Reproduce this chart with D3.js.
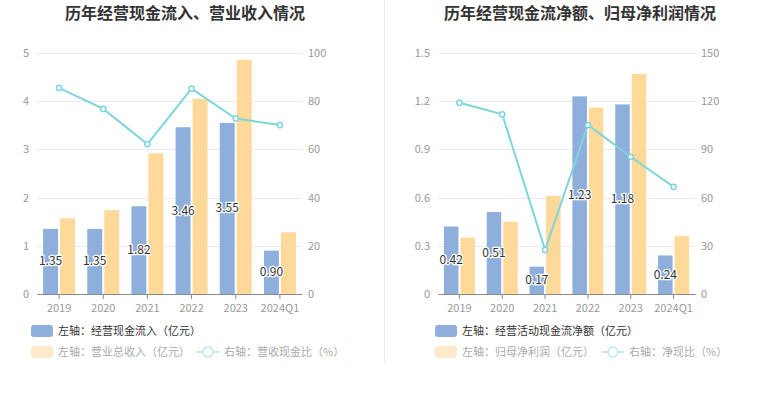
<!DOCTYPE html>
<html>
<head>
<meta charset="utf-8">
<script src="https://cdn.jsdelivr.net/npm/d3@7"></script>
<style>
  body { margin: 0; background: #fff; }
  svg { display: block; font-family: "Noto Sans CJK SC", "Noto Sans", sans-serif; }
</style>
</head>
<body>
<div id="chart"></div>
<script>
const years = ['2019', '2020', '2021', '2022', '2023', '2024Q1'];

// left chart
const cashIn = [1.35, 1.35, 1.82, 3.46, 3.55, 0.90];
const revenue = [1.57, 1.74, 2.92, 4.05, 4.86, 1.28];
const cashRatio = [85.5, 76.8, 62.2, 85.2, 72.8, 70.1];
const leftTicksA = [0, 1, 2, 3, 4, 5];
const rightTicksA = [0, 20, 40, 60, 80, 100];

// right chart
const netCash = [0.42, 0.51, 0.17, 1.23, 1.18, 0.24];
const netProfit = [0.35, 0.45, 0.61, 1.16, 1.37, 0.36];
const netRatio = [119.0, 111.8, 27.5, 105.2, 85.4, 66.7];
const leftTicksB = [0, 0.3, 0.6, 0.9, 1.2, 1.5];
const rightTicksB = [0, 30, 60, 90, 120, 150];

const W = 765, H = 393;
const blue = '#8eaedc', yellow = '#fed99a', cyan = '#7ed5da';

const svg = d3.select('#chart').append('svg').attr('width', W).attr('height', H);

// separator
svg.append('line').attr('x1', 384.5).attr('x2', 384.5).attr('y1', 0).attr('y2', 363)
  .attr('stroke', '#eeeeee');

function drawChart(o) {
  const g = svg.append('g');
  const top = 53, bottom = 294;

  g.append('text').attr('x', o.titleX).attr('y', 19)
    .attr('text-anchor', 'middle').attr('font-size', '16px').attr('font-weight', 'bold')
    .attr('fill', '#333').text(o.title);

  const x = d3.scaleBand().domain(years).range([o.x0, o.x1]);
  const bw = x.bandwidth();
  const sub = d3.scaleBand().domain(['a', 'b'])
    .range([-bw * 0.362, bw * 0.362]).paddingInner(0.12);
  const yL = d3.scaleLinear().domain([0, o.leftTicks[o.leftTicks.length - 1]]).range([bottom, top]);
  const yR = d3.scaleLinear().domain([0, o.rightTicks[o.rightTicks.length - 1]]).range([bottom, top]);
  const cx = d => x(d) + bw / 2;

  // grid
  g.append('g').selectAll('line').data(o.leftTicks.slice(1)).join('line')
    .attr('x1', o.x0).attr('x2', o.x1)
    .attr('y1', d => Math.round(yL(d)) + 0.5).attr('y2', d => Math.round(yL(d)) + 0.5)
    .attr('stroke', '#e6ebf4');

  // left axis labels
  g.append('g').selectAll('text').data(o.leftTicks).join('text')
    .attr('x', o.x0 - 8).attr('y', d => yL(d) + 4)
    .attr('text-anchor', 'end').attr('font-size', '11px').attr('fill', '#999')
    .text(d => d);

  // right axis labels
  g.append('g').selectAll('text').data(o.rightTicks).join('text')
    .attr('x', o.x1 + 6).attr('y', d => yR(d) + 4)
    .attr('text-anchor', 'start').attr('font-size', '11px').attr('fill', '#999')
    .text(d => d);

  // bars
  g.append('g').selectAll('rect').data(years).join('rect')
    .attr('x', d => cx(d) + sub('a')).attr('width', sub.bandwidth())
    .attr('y', (d, i) => yL(o.bars1[i])).attr('height', (d, i) => bottom - yL(o.bars1[i]))
    .attr('fill', blue);
  g.append('g').selectAll('rect').data(years).join('rect')
    .attr('x', d => cx(d) + sub('b')).attr('width', sub.bandwidth())
    .attr('y', (d, i) => yL(o.bars2[i])).attr('height', (d, i) => bottom - yL(o.bars2[i]))
    .attr('fill', yellow);

  // x axis
  const ax = g.append('g').attr('transform', `translate(0,${bottom})`)
    .call(d3.axisBottom(x).tickSize(5).tickSizeOuter(0));
  ax.select('.domain').attr('stroke', '#8a8a8a');
  ax.selectAll('.tick line').attr('stroke', '#8a8a8a');
  ax.selectAll('.tick text').attr('font-size', '11px').attr('fill', '#999')
    .attr('font-family', '"Noto Sans CJK SC", sans-serif').attr('dy', '0.9em');

  // line
  const line = d3.line().x(d => cx(d.k)).y(d => yR(d.v));
  const pts = years.map((k, i) => ({ k, v: o.ratio[i] }));
  g.append('path').datum(pts).attr('d', line)
    .attr('fill', 'none').attr('stroke', cyan).attr('stroke-width', 2);
  g.append('g').selectAll('circle').data(pts).join('circle')
    .attr('cx', d => cx(d.k)).attr('cy', d => yR(d.v)).attr('r', 2.6)
    .attr('fill', '#fff').attr('stroke', cyan).attr('stroke-width', 1.5);

  // data labels in middle of blue bars
  g.append('g').selectAll('text').data(years).join('text')
    .attr('x', d => cx(d) + sub('a') + sub.bandwidth() / 2)
    .attr('y', (d, i) => (yL(o.bars1[i]) + bottom) / 2 + 4)
    .attr('text-anchor', 'middle').attr('font-size', '12px')
    .attr('fill', '#333').attr('stroke', '#fff').attr('stroke-width', 2.5)
    .attr('paint-order', 'stroke')
    .text((d, i) => o.bars1[i].toFixed(2));

  // legend
  const lg = g.append('g').attr('font-size', '11px');
  lg.append('rect').attr('x', o.legX).attr('y', 325).attr('width', 22).attr('height', 12)
    .attr('rx', 3).attr('fill', blue);
  lg.append('text').attr('x', o.legX + 27).attr('y', 335).attr('fill', '#333').text(o.leg1);
  lg.append('rect').attr('x', o.legX).attr('y', 346).attr('width', 22).attr('height', 12)
    .attr('rx', 3).attr('fill', '#feeacb');
  lg.append('text').attr('x', o.legX + 27).attr('y', 356).attr('fill', '#aaa').text(o.leg2);
  lg.append('line').attr('x1', o.leg3X).attr('x2', o.leg3X + 22).attr('y1', 352).attr('y2', 352)
    .attr('stroke', '#bfe9ec').attr('stroke-width', 2);
  lg.append('circle').attr('cx', o.leg3X + 11).attr('cy', 352).attr('r', 5)
    .attr('fill', '#fff').attr('stroke', '#bfe9ec').attr('stroke-width', 1.5);
  lg.append('text').attr('x', o.leg3X + 27).attr('y', 356).attr('fill', '#aaa').text(o.leg3);
}

drawChart({
  title: '历年经营现金流入、营业收入情况', titleX: 185,
  x0: 37, x1: 302,
  leftTicks: leftTicksA, rightTicks: rightTicksA,
  bars1: cashIn, bars2: revenue, ratio: cashRatio,
  legX: 31, leg3X: 197,
  leg1: '左轴：经营现金流入（亿元）', leg2: '左轴：营业总收入（亿元）', leg3: '右轴：营收现金比（%）'
});

drawChart({
  title: '历年经营现金流净额、归母净利润情况', titleX: 580,
  x0: 438, x1: 695,
  leftTicks: leftTicksB, rightTicks: rightTicksB,
  bars1: netCash, bars2: netProfit, ratio: netRatio,
  legX: 435, leg3X: 602,
  leg1: '左轴：经营活动现金流净额（亿元）', leg2: '左轴：归母净利润（亿元）', leg3: '右轴：净现比（%）'
});
</script>
</body>
</html>
